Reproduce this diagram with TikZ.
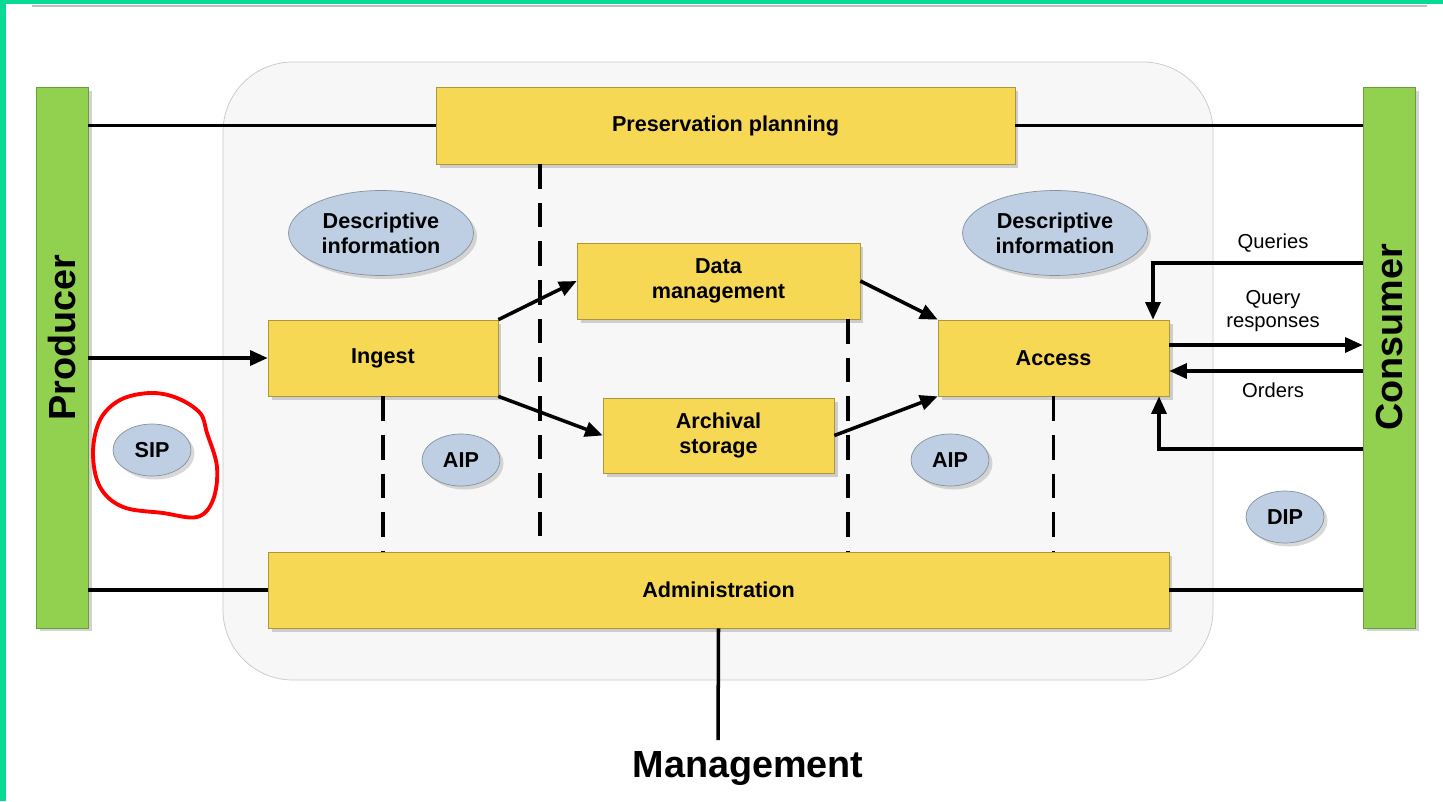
\documentclass[tikz,border=0pt]{standalone}
\usepackage{fontspec}
\setmainfont{Liberation Sans}
\usetikzlibrary{shapes.geometric, shadows, arrows.meta}

\definecolor{framegreen}{RGB}{8,217,148}
\definecolor{bargreen}{RGB}{146,208,80}
\definecolor{boxyellow}{RGB}{247,216,84}
\definecolor{ellblue}{RGB}{190,207,227}
\definecolor{panelgray}{RGB}{247,247,247}

\tikzset{
    func/.style={draw=boxyellow!70!black, fill=boxyellow, align=center,
        font=\bfseries\fontsize{12.3}{14}\selectfont, inner sep=0pt,
        drop shadow={opacity=0.35, shadow xshift=2pt, shadow yshift=-2pt}},
    bar/.style={draw=bargreen!75!black, fill=bargreen, inner sep=0pt,
        minimum width=1.04cm, minimum height=10.82cm,
        font=\bfseries\fontsize{21.5}{24}\selectfont,
        drop shadow={opacity=0.35, shadow xshift=2pt, shadow yshift=-2pt}},
    pkg/.style={ellipse, draw=ellblue!70!black, fill=ellblue, align=center,
        font=\bfseries\fontsize{12.3}{14}\selectfont, inner sep=0pt,
        drop shadow={opacity=0.3, shadow xshift=2pt, shadow yshift=-2pt}},
    flow/.style={line width=2pt, -{Triangle[length=10pt, width=8.5pt]}},
    link/.style={line width=2pt},
    dashlink/.style={line width=2pt, dash pattern=on 14pt off 8pt},
    note/.style={font=\fontsize{11.5}{13.5}\selectfont, align=center}
}

\begin{document}
\begin{tikzpicture}[x=0.02cm, y=-0.02cm]
    \useasboundingbox (0,0) rectangle (1443,801);
    % frame of the screenshot
    \fill[framegreen] (0,0) rectangle (1443,4);
    \fill[framegreen] (0,0) rectangle (6,801);
    \draw[black!25, line width=1pt] (32,6) -- (1427,6);

    % archive panel
    \draw[black!22, fill=panelgray, rounded corners=1.4cm] (223,62) rectangle (1213,680);

    \node[bar] (prod) at (62,357.5) {\rotatebox{90}{\hspace{0.8cm}Producer}};
    \node[bar] (cons) at (1389,357.5) {\rotatebox{90}{\hspace{0.8cm}Consumer}};

    \node[func, minimum width=11.58cm, minimum height=1.54cm] (pres) at (725.5,125.5) {Preservation planning};
    \node[func, minimum width=5.66cm, minimum height=1.52cm] (dm) at (718.5,281) {Data\\management};
    \node[func, minimum width=4.6cm, minimum height=1.52cm] (ingest) at (383,358) {Ingest};
    \node[func, minimum width=4.62cm, minimum height=1.5cm] (arch) at (718.5,435.5) {Archival\\storage};
    \node[func, minimum width=4.62cm, minimum height=1.52cm] (access) at (1053.5,358) {Access};
    \node[func, minimum width=18.02cm, minimum height=1.52cm] (admin) at (718.5,590) {Administration};

    \node[pkg, minimum width=3.7cm, minimum height=1.7cm] (descl) at (381,233) {Descriptive\\information};
    \node[pkg, minimum width=3.7cm, minimum height=1.7cm] (descr) at (1055,233) {Descriptive\\information};
    \node[pkg, minimum width=1.56cm, minimum height=1.04cm] (sip) at (152,450) {SIP};
    \node[pkg, minimum width=1.56cm, minimum height=1.04cm] (aipl) at (461,460) {AIP};
    \node[pkg, minimum width=1.56cm, minimum height=1.04cm] (aipr) at (950,460) {AIP};
    \node[pkg, minimum width=1.56cm, minimum height=1.04cm] (dip) at (1285,517) {DIP};

    % lines to producer and consumer
    \draw[link] (prod.east |- pres.west) -- (pres.west);
    \draw[link] (pres.east) -- (cons.west |- pres.east);
    \draw[flow] (prod.east |- ingest.west) -- (ingest.west);
    \draw[link] (prod.east |- admin.west) -- (admin.west);
    \draw[link] (admin.east) -- (cons.west |- admin.east);

    % inside the archive
    \draw[flow] (ingest.north east) -- (dm.west);
    \draw[flow] (ingest.south east) -- (arch.west);
    \draw[flow] (dm.east) -- (access.north west);
    \draw[flow] (arch.east) -- (access.south west);

    \coordinate (pdash) at (540,164);
    \coordinate (pdashend) at (540,540);
    \coordinate (ddash) at (848,319);
    \draw[dashlink] (pdash) -- (pdashend);
    \draw[dashlink] (ingest.south) -- (ingest.south |- admin.north);
    \draw[dashlink] (ddash) -- (ddash |- admin.north);
    \draw[dashlink] (access.south) -- (access.south |- admin.north);

    % access and consumer
    \coordinate (qy) at (1153,263);
    \coordinate (oy) at (1159,449);
    \draw[flow] (cons.west |- qy) -| (qy |- access.north);
    \draw[flow] ([yshift=0.26cm]access.east) -- ([yshift=0.26cm]access.east -| cons.west);
    \draw[flow] ([yshift=-0.26cm]access.east -| cons.west) -- ([yshift=-0.26cm]access.east);
    \draw[flow] (cons.west |- oy) -| (oy |- access.south);
    \node[note] (queries) at (1273,243) {Queries};
    \node[note] (qresp) at (1273,311) {Query\\responses};
    \node[note] (orders) at (1273,390) {Orders};

    % management
    \coordinate (mline) at (718,740);
    \draw[link] (admin.south) -- (mline);
    \node[font=\bfseries\fontsize{21.5}{24}\selectfont] (mgmt) at (748,768) {Management};

    % red mark round SIP
    \draw[red, line width=2.2pt] plot[smooth cycle, tension=0.6] coordinates {
        (120,400) (150,393) (177,398) (200,413) (207,433) (217,467)
        (213,500) (197,517) (163,513) (123,507) (100,487) (93,453) (100,420)};
\end{tikzpicture}
\end{document}
